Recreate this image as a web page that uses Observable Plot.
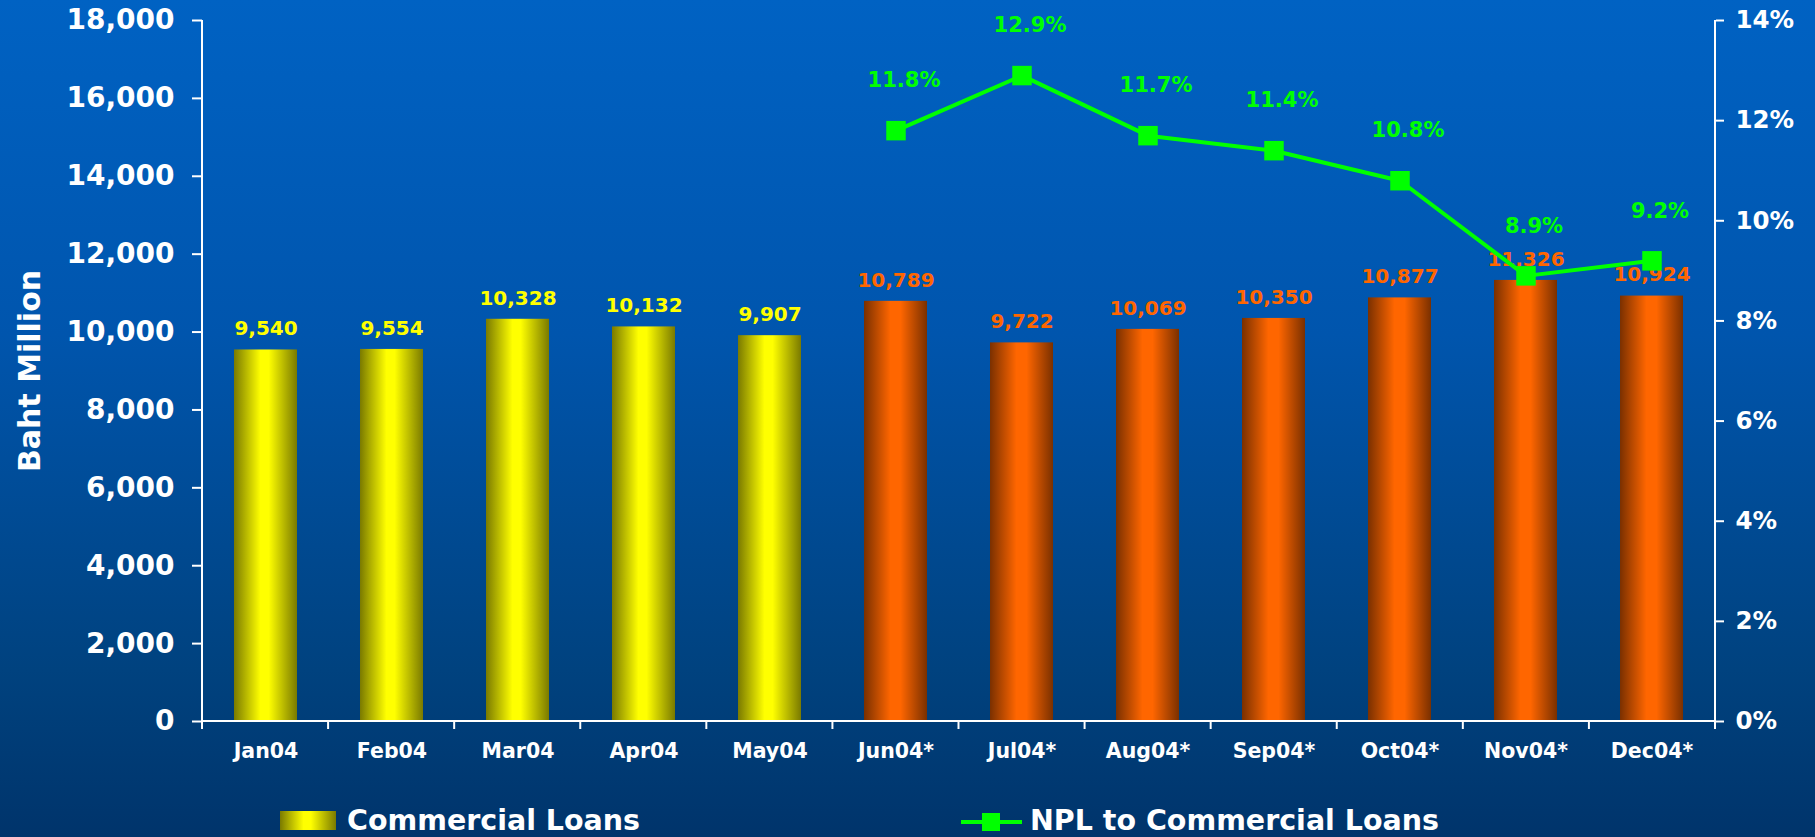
<!DOCTYPE html>
<html>
<head>
<meta charset="utf-8">
<script src="https://cdn.jsdelivr.net/npm/d3@7"></script>
<script src="https://cdn.jsdelivr.net/npm/@observablehq/plot@0.6"></script>
<style>
  html, body { margin: 0; padding: 0; }
  #wrap {
    position: relative; width: 1815px; height: 837px; overflow: hidden;
    background: linear-gradient(to bottom, #0062c3 0%, #0055ad 40%, #00427f 80%, #00346b 100%);
    font-family: "DejaVu Sans", Verdana, sans-serif; font-weight: bold; color: #fff;
  }
  .leg { position: absolute; font-size: 28.5px; line-height: 1; white-space: nowrap; }
</style>
</head>
<body>
<div id="wrap"></div>
<script>
// ---- data ----
const months = ["Jan04","Feb04","Mar04","Apr04","May04","Jun04*","Jul04*","Aug04*","Sep04*","Oct04*","Nov04*","Dec04*"];
const loans = [9540, 9554, 10328, 10132, 9907, 10789, 9722, 10069, 10350, 10877, 11326, 10924];
const nplPct = [null, null, null, null, null, 11.8, 12.9, 11.7, 11.4, 10.8, 8.9, 9.2];
const estimated = [false, false, false, false, false, true, true, true, true, true, true, true];
const leftTicks = [0, 2000, 4000, 6000, 8000, 10000, 12000, 14000, 16000, 18000];
const rightTicks = [0, 2, 4, 6, 8, 10, 12, 14];
const seriesNames = ["Commercial Loans", "NPL to Commercial Loans"];
const yTitle = "Baht Million";

const yMax = 18000, pMax = 14;
const p2y = p => p * yMax / pMax;

const rows = months.map((m, i) => ({month: m, loans: loans[i], npl: nplPct[i], est: estimated[i]}));
const actual = rows.filter(d => !d.est);
const est = rows.filter(d => d.est);
const nplRows = rows.filter(d => d.npl != null);

const W = 1815, H = 790, mL = 202, mR = 100, mT = 20, mB = 69;

// axis lines + category boundary ticks
function frameLines(index, scales, values, dim) {
  const g = d3.create("svg:g").attr("stroke", "#fff").attr("stroke-width", 2);
  const left = dim.marginLeft, right = dim.width - dim.marginRight;
  const top = dim.marginTop, bottom = dim.height - dim.marginBottom;
  g.append("line").attr("x1", left).attr("x2", left).attr("y1", top).attr("y2", bottom);
  g.append("line").attr("x1", right).attr("x2", right).attr("y1", top).attr("y2", bottom);
  g.append("line").attr("x1", left).attr("x2", right).attr("y1", bottom).attr("y2", bottom);
  const step = (right - left) / months.length;
  for (let k = 0; k <= months.length; k++) {
    const x = left + k * step;
    g.append("line").attr("x1", x).attr("x2", x).attr("y1", bottom).attr("y2", bottom + 8);
  }
  return g.node();
}

const svg = Plot.plot({
  width: W, height: H,
  marginLeft: mL, marginRight: mR, marginTop: mT, marginBottom: mB,
  style: {background: "transparent", color: "#fff", fontFamily: "DejaVu Sans, Verdana, sans-serif", fontWeight: "bold", overflow: "visible"},
  x: {domain: months, paddingInner: 0.5, paddingOuter: 0.25, label: null},
  y: {domain: [0, yMax], label: null},
  marks: [
    Plot.barY(actual, {x: "month", y: "loans", fill: "url(#gradY)"}),
    Plot.barY(est, {x: "month", y: "loans", fill: "url(#gradO)"}),
    Plot.axisY(leftTicks, {anchor: "left", tickSize: 10, tickPadding: 18, tickFormat: d3.format(","), fontSize: 28, stroke: "#fff", strokeWidth: 2, label: null}),
    Plot.axisY(rightTicks.map(p2y), {anchor: "right", tickSize: 8, tickPadding: 12, tickFormat: d => Math.round(d * pMax / yMax) + "%", fontSize: 24.5, strokeWidth: 2, label: null}),
    Plot.axisX({tickSize: 0, tickPadding: 22, fontSize: 20.5, label: null}),
    frameLines,
    Plot.text([yTitle], {frameAnchor: "left", textAnchor: "middle", rotate: -90, dx: -172, fontSize: 30, fill: "#fff"}),
    Plot.text(actual, {x: "month", y: "loans", text: d => d3.format(",")(d.loans), dy: -21, fill: "#ffff00", fontSize: 20}),
    Plot.text(est, {x: "month", y: "loans", text: d => d3.format(",")(d.loans), dy: -21, fill: "#ff6600", fontSize: 20}),
    Plot.line(nplRows, {x: "month", y: d => p2y(d.npl), stroke: "#00ff00", strokeWidth: 4}),
    Plot.dot(nplRows, {x: "month", y: d => p2y(d.npl), symbol: "square", r: 11, fill: "#00ff00", stroke: "none"}),
    Plot.text(nplRows, {x: "month", y: d => p2y(d.npl), text: d => d.npl.toFixed(1) + "%", dy: -50, dx: 8, fill: "#00ff00", fontSize: 21})
  ]
});

svg.insertAdjacentHTML("afterbegin", `
<defs>
  <linearGradient id="gradY" x1="0" x2="1" y1="0" y2="0">
    <stop offset="0" stop-color="#7a7a00"/>
    <stop offset="0.42" stop-color="#ffff00"/>
    <stop offset="0.55" stop-color="#ffff00"/>
    <stop offset="1" stop-color="#7a7a00"/>
  </linearGradient>
  <linearGradient id="gradO" x1="0" x2="1" y1="0" y2="0">
    <stop offset="0" stop-color="#7a3000"/>
    <stop offset="0.42" stop-color="#ff6600"/>
    <stop offset="0.58" stop-color="#ff6600"/>
    <stop offset="1" stop-color="#7a3000"/>
  </linearGradient>
</defs>`);

const wrap = document.getElementById("wrap");
wrap.appendChild(svg);
svg.style.position = "absolute";
svg.style.left = "0px";
svg.style.top = "0px";

// legend (below the plot area)
const leg1sw = document.createElement("div");
leg1sw.style.cssText = "position:absolute;left:280px;top:811px;width:56px;height:19px;background:linear-gradient(to right,#7a7a00,#ffff00 42%,#ffff00 55%,#7a7a00);";
wrap.appendChild(leg1sw);
const leg1 = document.createElement("div");
leg1.className = "leg"; leg1.style.left = "347px"; leg1.style.top = "807px";
leg1.textContent = seriesNames[0];
wrap.appendChild(leg1);

const leg2sw = document.createElementNS("http://www.w3.org/2000/svg", "svg");
leg2sw.setAttribute("width", 64); leg2sw.setAttribute("height", 24);
leg2sw.style.cssText = "position:absolute;left:960px;top:810px;";
leg2sw.innerHTML = '<line x1="1" x2="62" y1="12" y2="12" stroke="#00ff00" stroke-width="4"/><rect x="22" y="3" width="18" height="18" fill="#00ff00"/>';
wrap.appendChild(leg2sw);
const leg2 = document.createElement("div");
leg2.className = "leg"; leg2.style.left = "1030px"; leg2.style.top = "807px";
leg2.textContent = seriesNames[1];
wrap.appendChild(leg2);
</script>
</body>
</html>
